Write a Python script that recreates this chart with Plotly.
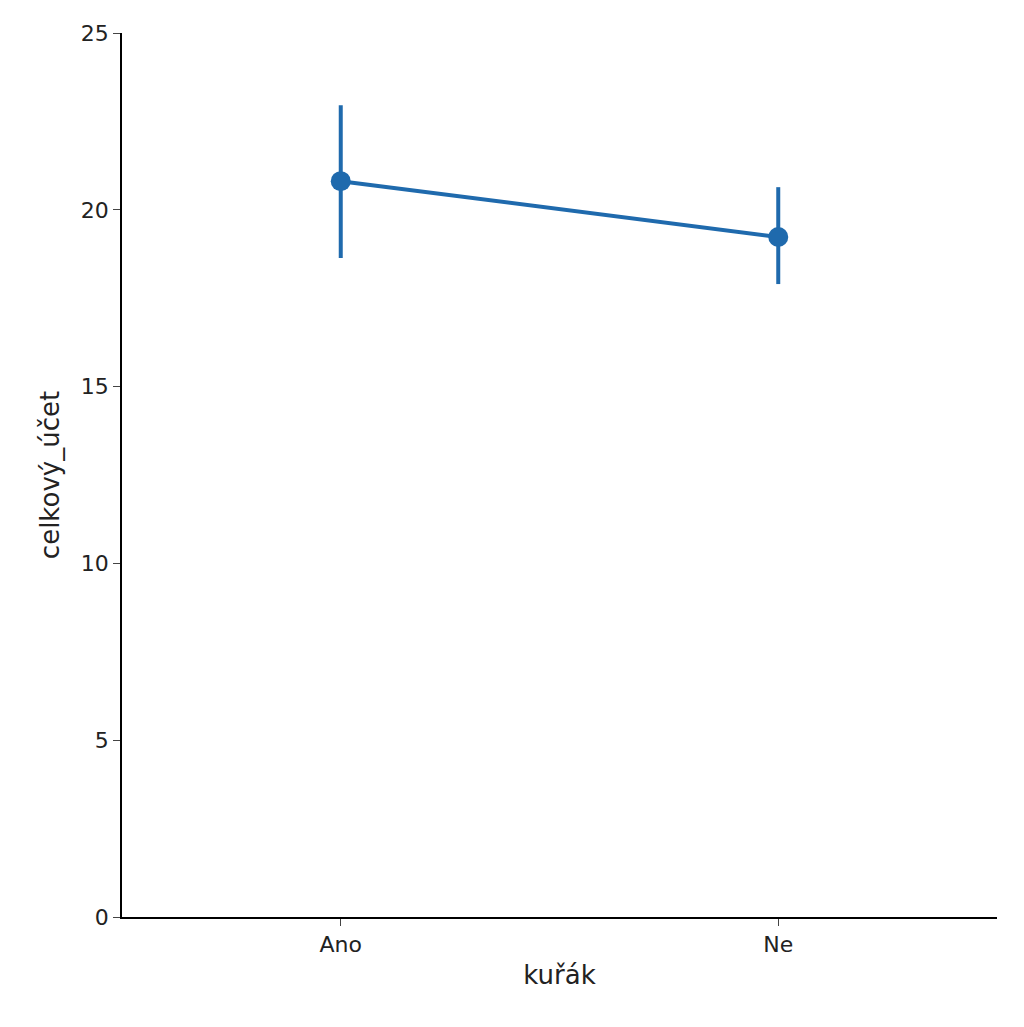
import plotly.graph_objects as go

categories = ["Ano", "Ne"]
means = [20.81, 19.23]
upper = [22.96, 20.64]
lower = [18.64, 17.90]

err_plus = [u - m for u, m in zip(upper, means)]
err_minus = [m - l for m, l in zip(means, lower)]

color = "#1f6aad"
fig = go.Figure(go.Scatter(
    x=[0, 1], y=means, mode="lines+markers",
    line=dict(color=color, width=4),
    marker=dict(color=color, size=20),
    error_y=dict(type="data", array=err_plus, arrayminus=err_minus,
                 color=color, thickness=4, width=0),
))
fig.update_layout(
    width=1024, height=1027, plot_bgcolor="white", paper_bgcolor="white",
    margin=dict(l=114, r=35, t=25, b=118), showlegend=False,
    font=dict(family="DejaVu Sans", size=22, color="#222"),
)
fig.update_xaxes(range=[-0.5, 1.5], tickvals=[0, 1], ticktext=categories,
                 showline=True, linecolor="black", linewidth=1.5, ticks="outside",
                 ticklen=7, showgrid=False, zeroline=False, tickfont=dict(size=22),
                 title=dict(text="kuřák", standoff=10))
fig.update_yaxes(range=[0, 25], tickvals=[0, 5, 10, 15, 20, 25],
                 showline=True, linecolor="black", linewidth=1.5, ticks="outside",
                 ticklen=7, showgrid=False, zeroline=False, tickfont=dict(size=22),
                 title=dict(text="celkový_účet", standoff=14))
fig.write_html("out.html")
